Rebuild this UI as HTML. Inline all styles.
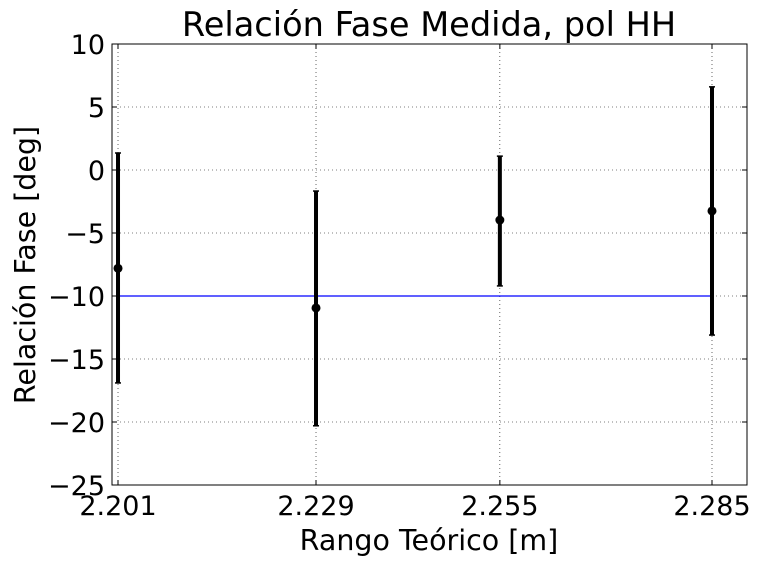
<!DOCTYPE html>
<html><head><meta charset="utf-8">
<style>
body{margin:0;background:#fff;}
svg text{font-family:"DejaVu Sans","Liberation Sans",sans-serif;fill:#000;}
</style></head>
<body>
<svg id="chart" width="761" height="565" viewBox="0 0 761 565" xmlns="http://www.w3.org/2000/svg">
<rect width="761" height="565" fill="#fff"/>
<text x="429" y="36" font-size="33.6" text-anchor="middle">Relación Fase Medida, pol HH</text>
<text x="429" y="550" font-size="28.5" text-anchor="middle">Rango Teórico [m]</text>
<text transform="translate(35,265) rotate(-90)" font-size="28.5" text-anchor="middle">Relación Fase [deg]</text>
<g id="grid"></g>
<g id="ticks"></g>
<g id="marks"></g>
<rect x="112" y="44" width="635" height="441" fill="none" stroke="#000" stroke-width="1"/>
</svg>
<script>
const categories=[2.201,2.229,2.255,2.285];
const values=[-7.8,-10.95,-3.97,-3.25];
const errUpper=[1.35,-1.67,1.1,6.6];
const errLower=[-16.9,-20.3,-9.2,-13.1];
const refValue=-10;
const yTicks=[10,5,0,-5,-10,-15,-20,-25];
const yTickLabels=["10","5","0","\u22125","\u221210","\u221215","\u221220","\u221225"];
const xTickLabels=["2.201","2.229","2.255","2.285"];

const L=112,R=747,T=44,B=485;
const xMin=2.20015,xMax=2.28995,yMin=-25,yMax=10;
const xs=v=>L+(v-xMin)/(xMax-xMin)*(R-L);
const ys=v=>T+(yMax-v)/(yMax-yMin)*(B-T);
const NS="http://www.w3.org/2000/svg";
function mk(tag,attrs,parent){const e=document.createElementNS(NS,tag);for(const k in attrs)e.setAttribute(k,attrs[k]);parent.appendChild(e);return e;}
const grid=document.getElementById('grid'),ticks=document.getElementById('ticks'),marks=document.getElementById('marks');

yTicks.forEach((v,i)=>{
  const y=ys(v);
  const g=mk('line',{x1:L,x2:R,y1:y,y2:y,stroke:'#000','stroke-width':0.6,'stroke-dasharray':'1,3'},grid);
  
  
  mk('line',{x1:L,x2:L+5,y1:y,y2:y,stroke:'#000'},ticks);
  mk('line',{x1:R,x2:R-5,y1:y,y2:y,stroke:'#000'},ticks);
  const t=mk('text',{x:L-7,y:y+10,'font-size':27,'text-anchor':'end'},ticks);
  t.textContent=yTickLabels[i];
  
  
});
categories.forEach((v,i)=>{
  const x=xs(v);
  const g=mk('line',{x1:x,x2:x,y1:T,y2:B,stroke:'#000','stroke-width':0.6,'stroke-dasharray':'1,3'},grid);
  
  
  mk('line',{x1:x,x2:x,y1:B,y2:B-5,stroke:'#000'},ticks);
  mk('line',{x1:x,x2:x,y1:T,y2:T+5,stroke:'#000'},ticks);
  const t=mk('text',{x:x,y:B+30,'font-size':27,'text-anchor':'middle'},ticks);
  t.textContent=xTickLabels[i];
  
  
});
const ref=mk('line',{x1:xs(categories[0]),x2:xs(categories[categories.length-1]),y1:ys(refValue),y2:ys(refValue),stroke:'#0000ff','stroke-width':1.2},marks);


categories.forEach((v,i)=>{
  const x=xs(v);
  const eb=mk('line',{x1:x,x2:x,y1:ys(errUpper[i]),y2:ys(errLower[i]),stroke:'#000','stroke-width':4},marks);
  
  
  mk('line',{x1:x-3,x2:x+3,y1:ys(errUpper[i]),y2:ys(errUpper[i]),stroke:'#000','stroke-width':1.5},marks);
  mk('line',{x1:x-3,x2:x+3,y1:ys(errLower[i]),y2:ys(errLower[i]),stroke:'#000','stroke-width':1.5},marks);
  const p=mk('circle',{cx:x,cy:ys(values[i]),r:4.5,fill:'#000'},marks);
  
  
});
</script>
</body></html>
